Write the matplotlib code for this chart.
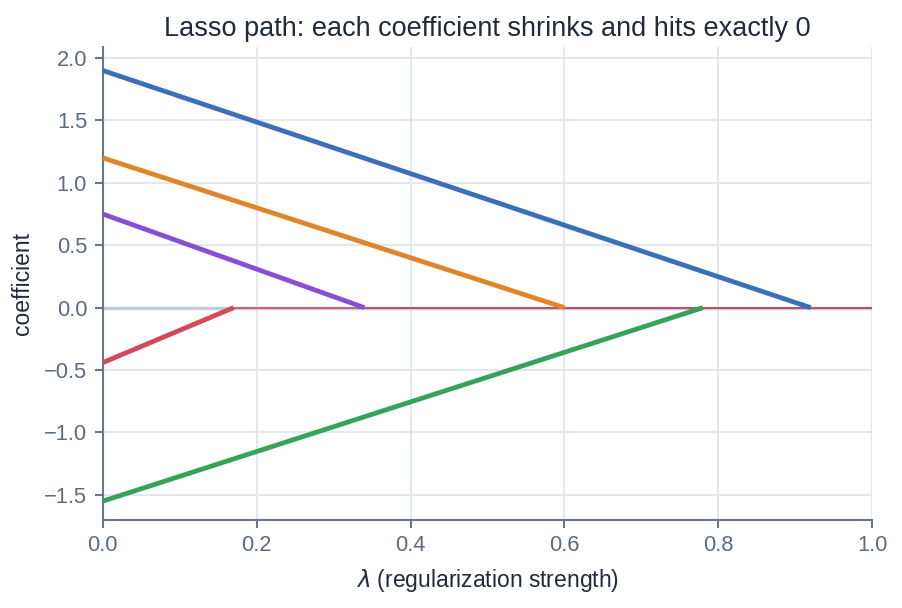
import matplotlib
matplotlib.use("Agg")
import matplotlib.pyplot as plt

# lambda at which each coefficient reaches 0, and its starting value at lambda=0
FEATURES = ["x1", "x2", "x3", "x5", "x4"]
START_VALUES = [1.90, 1.20, 0.75, -1.55, -0.44]
ZERO_AT = [0.92, 0.60, 0.34, 0.78, 0.17]
COLORS = ["#3a6fba", "#e0852b", "#8550d6", "#36a25a", "#d3485a"]
LAMBDA_MAX = 1.0

TEXT_COLOR = "#1f2a3a"
TICK_COLOR = "#5c6b80"
SPINE_COLOR = "#6b7687"
GRID_COLOR = "#e4e8ee"

plt.rcParams["font.family"] = ["Liberation Sans", "DejaVu Sans"]
plt.rcParams["mathtext.fontset"] = "dejavusans"

fig, ax = plt.subplots(figsize=(902 / 150, 608 / 150), dpi=150)

ax.axhline(0, color="#c2ccd8", linewidth=1.6, zorder=1)

for start, zero_at, color in zip(START_VALUES, ZERO_AT, COLORS):
    ax.plot([0, zero_at], [start, 0], color=color, linewidth=2.3, zorder=3,
            solid_capstyle="butt")
    ax.plot([zero_at, LAMBDA_MAX], [0, 0], color=color, linewidth=0.9,
            alpha=0.85, zorder=2)

ax.set_xlim(0, LAMBDA_MAX)
ax.set_ylim(-1.70, 2.09)
ax.set_title("Lasso path: each coefficient shrinks and hits exactly 0",
             fontsize=13, color=TEXT_COLOR, pad=5)
ax.set_xlabel(r"$\lambda$ (regularization strength)", fontsize=11,
              color=TEXT_COLOR, labelpad=5)
ax.set_ylabel("coefficient", fontsize=11, color=TEXT_COLOR, labelpad=5)

ax.grid(True, color=GRID_COLOR, linewidth=1.0)
ax.set_axisbelow(True)
for side in ("top", "right"):
    ax.spines[side].set_visible(False)
for side in ("left", "bottom"):
    ax.spines[side].set_color(SPINE_COLOR)
    ax.spines[side].set_linewidth(1.0)
ax.tick_params(colors=SPINE_COLOR, labelcolor=TICK_COLOR, labelsize=10.5,
               length=4, width=1.0)
ax.set_yticks([-1.5, -1.0, -0.5, 0.0, 0.5, 1.0, 1.5, 2.0])

fig.subplots_adjust(left=0.114, right=0.967, bottom=0.145, top=0.923)
fig.savefig("out.png", dpi=150)
